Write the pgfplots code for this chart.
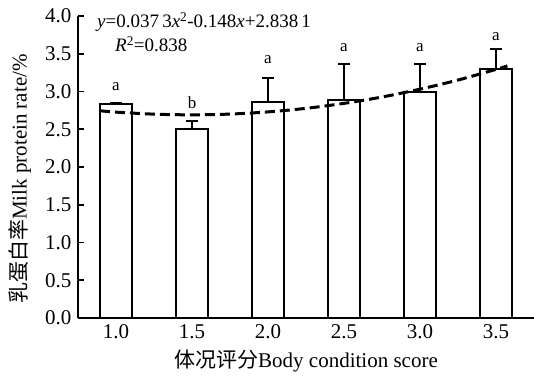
\documentclass[border=0pt]{standalone}
\usepackage{fontspec}
\setmainfont{Liberation Serif}
\newfontfamily\cjk{Noto Sans CJK SC}
\usepackage{pgfplots}
\pgfplotsset{compat=1.18}
\begin{document}
\begin{tikzpicture}
\begin{axis}[
  at={(0,0)}, anchor=south west,
  scale only axis, width=456pt, height=302pt,
  xmin=0.5, xmax=6.5, ymin=0, ymax=4,
  axis x line=bottom, axis y line=left,
  axis line style={line width=1.6pt, -},
  ytick={0,0.5,1,1.5,2,2.5,3,3.5,4},
  yticklabel style={xshift=-3pt, /pgf/number format/.cd, fixed, fixed zerofill, precision=1},
  xticklabel style={yshift=-3pt},
  /pgf/number format/assume math mode=true,
  xtick={1,2,3,4,5,6}, xticklabels={1.0,1.5,2.0,2.5,3.0,3.5},
  x tick style={draw=none},
  y tick style={line width=1.6pt, black},
  tick align=inside, major tick length=6pt,
  tick label style={font=\fontsize{21}{25}\selectfont},
  label style={font=\fontsize{21}{25}\selectfont},
  xlabel={{\cjk 体况评分}Body condition score},
  ylabel={{\cjk 乳蛋白率}Milk protein rate/\%},
  xlabel style={at={(axis description cs:0.5,-0.142)}, anchor=center},
  ylabel style={at={(axis description cs:-0.127,0.46)}, anchor=center, rotate=0},
  clip=false,
]
\addplot[ybar, bar shift=0pt, bar width=32pt, fill=white, draw=black, line width=2pt,
  error bars/.cd, y dir=plus, y explicit,
  error bar style={line width=2pt, black},
  error mark options={rotate=90, line width=2pt, mark size=6pt, black}]
coordinates {
(1,2.83) +- (0,0.02)
(2,2.51) +- (0,0.10)
(3,2.86) +- (0,0.32)
(4,2.89) +- (0,0.47)
(5,3.00) +- (0,0.36)
(6,3.30) +- (0,0.26)
};
\addplot[black, line width=3pt, dash pattern=on 10pt off 5pt, smooth] coordinates {
(0.79,2.745) (1.0,2.727) (1.5,2.700) (2.0,2.691) (2.5,2.701) (3.0,2.730)
(3.5,2.777) (4.0,2.843) (4.5,2.927) (5.0,3.031) (5.5,3.152) (6.0,3.293) (6.15,3.339)
};
\node[anchor=base, font=\fontsize{17}{19}\selectfont] at (axis cs:1,3.01) {a};
\node[anchor=base, font=\fontsize{17}{19}\selectfont] at (axis cs:2,2.78) {b};
\node[anchor=base, font=\fontsize{17}{19}\selectfont] at (axis cs:3,3.37) {a};
\node[anchor=base, font=\fontsize{17}{19}\selectfont] at (axis cs:4,3.53) {a};
\node[anchor=base, font=\fontsize{17}{19}\selectfont] at (axis cs:5,3.53) {a};
\node[anchor=base, font=\fontsize{17}{19}\selectfont] at (axis cs:6,3.67) {a};
\node[anchor=base west, inner sep=0pt, font=\fontsize{19}{22}\selectfont] at (axis cs:0.75,3.85) {\textit{y}=0.037\,3\textit{x}\textsuperscript{2}-0.148\textit{x}+2.838\,1};
\node[anchor=base west, inner sep=0pt, font=\fontsize{19}{22}\selectfont] at (axis cs:0.987,3.53) {\textit{R}\textsuperscript{2}=0.838};
\end{axis}
\pgfresetboundingbox
\path (-78pt,-58pt) rectangle (456pt,318pt);
\end{tikzpicture}
\end{document}
